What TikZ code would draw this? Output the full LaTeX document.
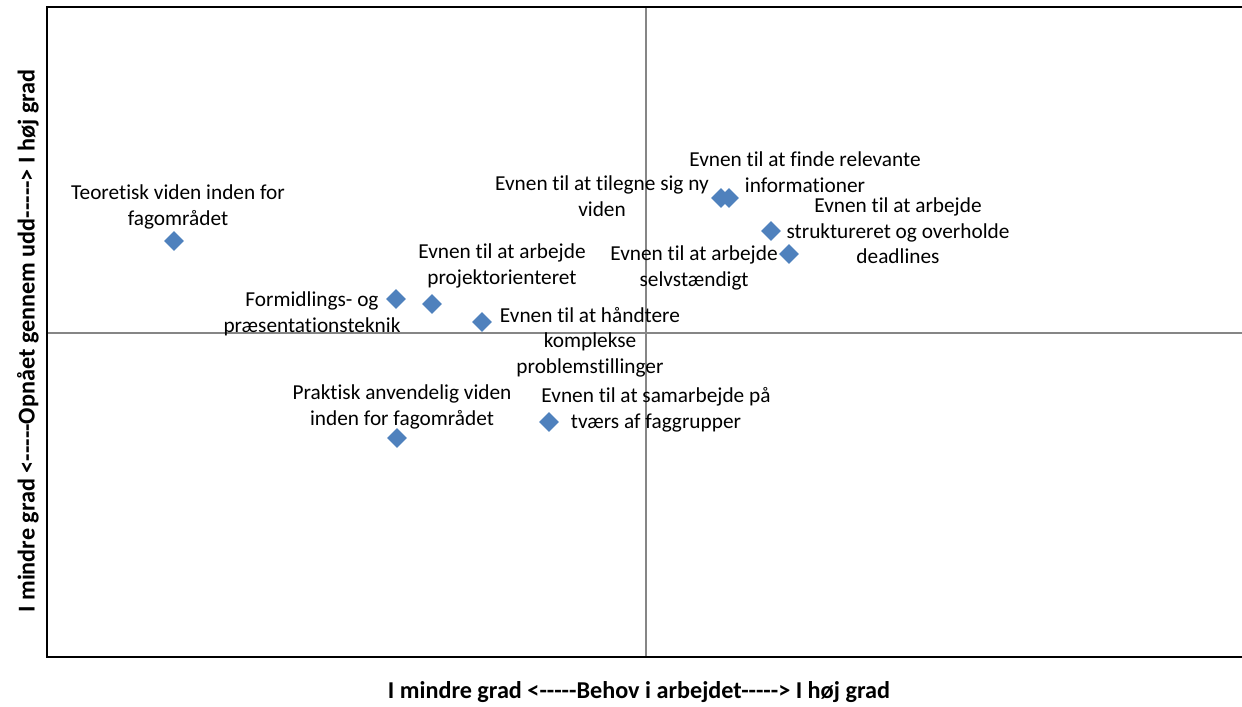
\documentclass[tikz,border=0pt]{standalone}
\usepackage{fontspec}
\setmainfont{Carlito}[Ligatures={NoCommon}]
\usetikzlibrary{shapes.geometric}
\definecolor{markblue}{HTML}{4F81BD}
\definecolor{axisgray}{HTML}{868686}
\newcommand{\fivedash}{-{}-{}-{}-{}-}
\tikzset{
  pt/.style={diamond, fill=markblue, draw=none, minimum width=20bp, minimum height=20bp, inner sep=0pt},
  lab/.style={align=center, inner sep=0pt, font=\fontsize{21.3bp}{25.5bp}\selectfont},
  axtitle/.style={inner sep=0pt, font=\fontsize{24.2bp}{28bp}\selectfont\bfseries},
}
\begin{document}
\begin{tikzpicture}[x=1bp, y=-1bp]
\useasboundingbox (0,0) rectangle (1242,707);
% axes
\coordinate (tl) at (47,7);
\coordinate (bl) at (47,657);
\coordinate (tr) at (1242,7);
\coordinate (br) at (1242,657);
\coordinate (vt) at (645.5,7);
\coordinate (vb) at (645.5,657);
\coordinate (hl) at (47,332.5);
\coordinate (hr) at (1242,332.5);
\draw[axisgray, line width=2bp] (vt) -- (vb);
\draw[axisgray, line width=2bp] (hl) -- (hr);
\draw[black, line width=2bp] (tr) -- (tl) -- (bl) -- (br);
% points
\node[pt] (p1) at (174,241) {};
\node[pt] (p2) at (396,299) {};
\node[pt] (p3) at (432,304) {};
\node[pt] (p4) at (482,322) {};
\node[pt] (p5) at (397,438) {};
\node[pt] (p6) at (549,422) {};
\node[pt] (p7) at (721,198) {};
\node[pt] (p8) at (729,198) {};
\node[pt] (p9) at (771,231) {};
\node[pt] (p10) at (789,254) {};
% labels
\node[lab] (l1) at (178,207) {Teoretisk viden inden for\\fagområdet};
\node[lab] (l2) at (312,314) {Formidlings- og\\præsentationsteknik};
\node[lab] (l3) at (502,266) {Evnen til at arbejde\\projektorienteret};
\node[lab] (l4) at (590,342) {Evnen til at håndtere\\komplekse\\problemstillinger};
\node[lab] (l5) at (402,407) {Praktisk anvendelig viden\\inden for fagområdet};
\node[lab] (l6) at (656,410) {Evnen til at samarbejde på\\tværs af faggrupper};
\node[lab] (l7) at (602,196) {Evnen til at tilegne sig ny\\viden};
\node[lab] (l8) at (805,172) {Evnen til at finde relevante\\informationer};
\node[lab] (l9) at (898,231) {Evnen til at arbejde\\struktureret og overholde\\deadlines};
\node[lab] (l10) at (694,268) {Evnen til at arbejde\\selvstændigt};
% axis titles
\node[axtitle] (xt) at (639,692) {I mindre grad <\fivedash Behov i arbejdet\fivedash> I høj grad};
\node[axtitle, rotate=90] (yt) at (28,341) {I mindre grad <\fivedash Opnået gennem udd\fivedash> I høj grad};
\end{tikzpicture}
\end{document}
